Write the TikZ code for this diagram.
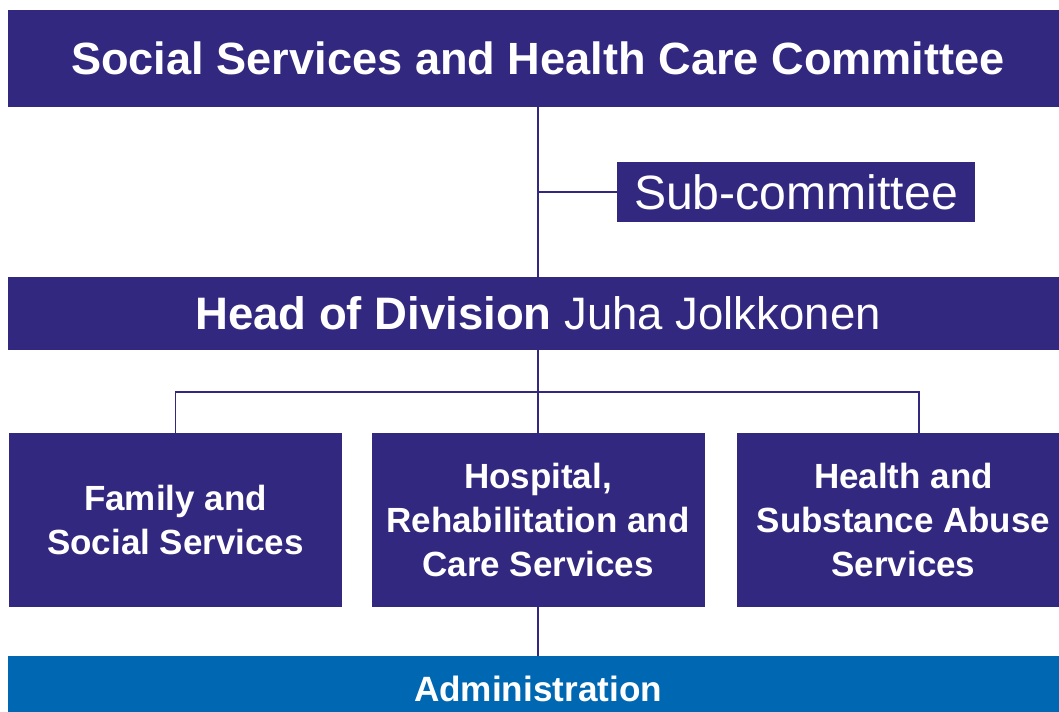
\documentclass[tikz,border=0pt]{standalone}
\usepackage{fontspec}
\setmainfont{Liberation Sans}
\usetikzlibrary{positioning}
\definecolor{orgpurple}{HTML}{33287F}
\definecolor{orgblue}{HTML}{0068B3}

\begin{document}
\begin{tikzpicture}[
  box/.style={fill=orgpurple, text=white, inner sep=0pt, align=center},
  wide/.style={box, minimum width=21.2cm},
  unitbox/.style={box, minimum width=6.66cm, minimum height=3.48cm,
    font=\fontsize{19.9}{25}\selectfont\bfseries},
  link/.style={draw=orgpurple, line width=1.1pt}]
\useasboundingbox (0,0) rectangle (21.18,-14.22);
\clip (0,0) rectangle (21.18,-14.22);

% committee, sub-committee and head of division
\node[wide, minimum height=1.94cm, font=\fontsize{25.7}{31}\selectfont\bfseries]
  (committee) at (10.76,-1.17) {Social Services and Health Care Committee};
\node[box, minimum width=7.16cm, minimum height=1.2cm, font=\fontsize{27.4}{32}\selectfont]
  (sub) at (15.92,-3.84) {Sub-committee};
\node[wide, minimum height=1.46cm, font=\fontsize{25.9}{31}\selectfont]
  (head) at (10.76,-6.27) {\textbf{Head of Division} Juha Jolkkonen};

% service areas
\node[unitbox] (family) at (3.51,-10.4) {Family and\\Social Services};
\node[unitbox] (hospital) at (10.76,-10.4) {Hospital,\\Rehabilitation and\\Care Services};
\node[unitbox] (health) at (18.07,-10.4) {Health and\\Substance Abuse\\Services};

\node[wide, fill=orgblue, minimum height=1.3cm, font=\fontsize{20}{24}\selectfont\bfseries]
  (admin) at (10.76,-13.77) {Administration};

% connectors
\coordinate (split) at (10.76,-7.84);
\coordinate (healthtop) at (18.38,-8.66);
\draw[link] (committee) -- (head);
\draw[link] (sub.west) -- (sub.west -| committee.south);
\draw[link] (head) -- (hospital);
\draw[link] (family.north) |- (split) -| (healthtop);
\draw[link] (hospital) -- (admin);
\end{tikzpicture}
\end{document}
